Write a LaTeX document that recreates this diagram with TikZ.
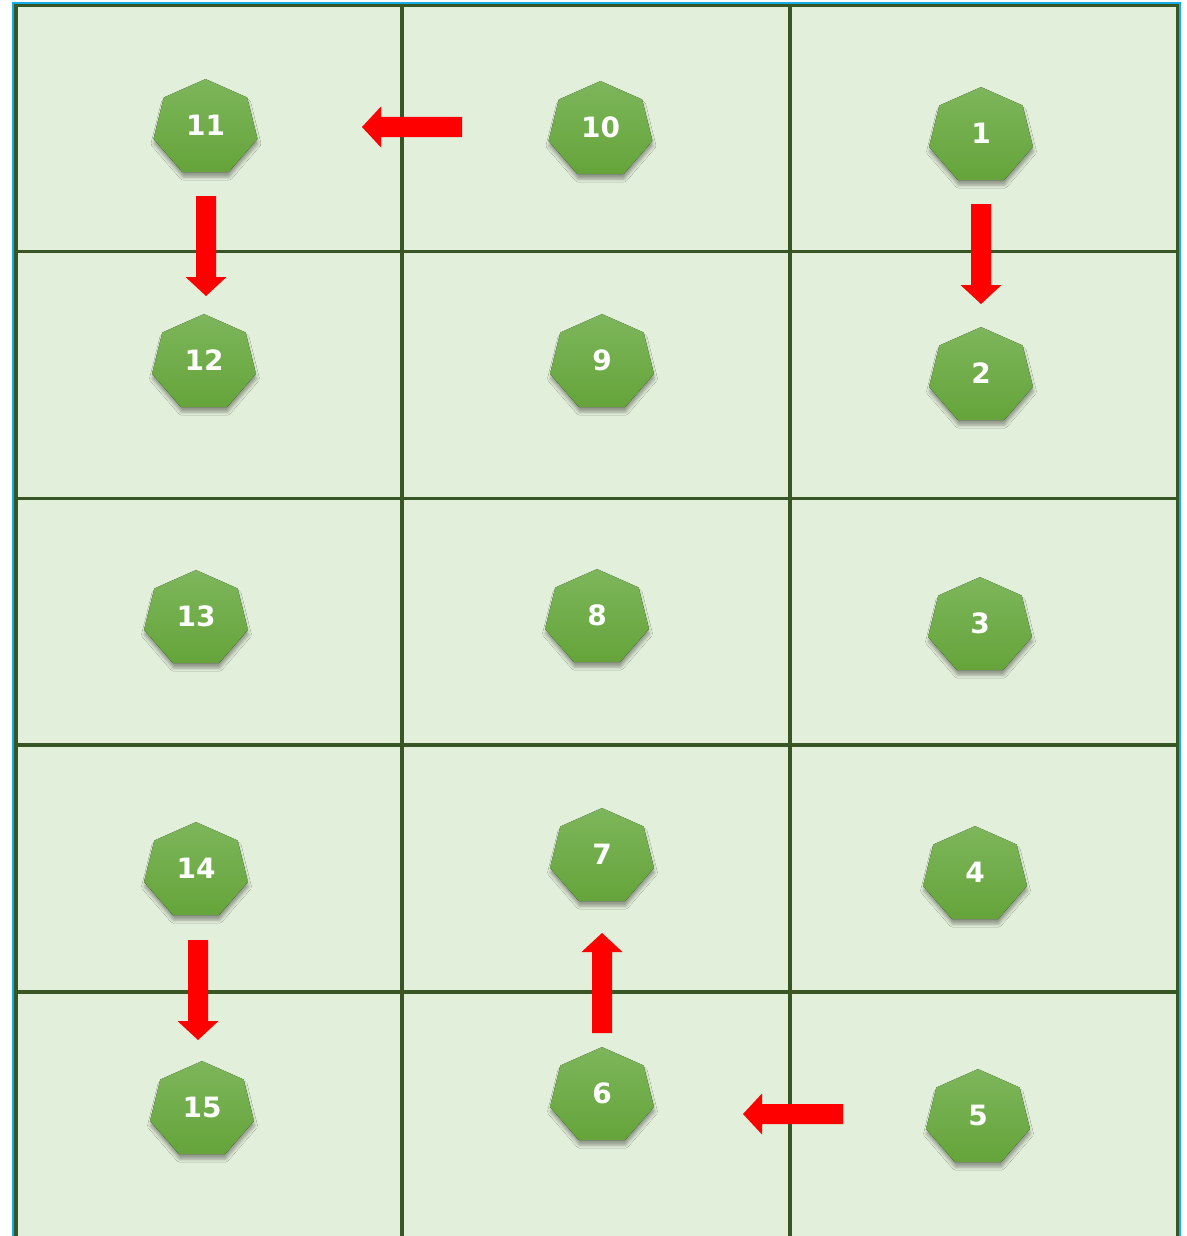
\documentclass[tikz,border=0pt]{standalone}
\usepackage{fontspec}
\setmainfont{DejaVu Sans}
\usetikzlibrary{shadows.blur,calc}
\definecolor{cellbg}{HTML}{E2EFDA}
\definecolor{gridgreen}{HTML}{375623}
\definecolor{framblue}{RGB}{22,172,232}
\definecolor{heptop}{HTML}{7DB65B}
\definecolor{heptbot}{HTML}{65A43A}
\definecolor{arrowred}{HTML}{FF0000}
\tikzset{
  gridline/.style={draw=gridgreen, line width=3.5pt},
  heptshape/.style={top color=heptop, bottom color=heptbot,
    blur shadow={shadow xshift=0.5pt, shadow yshift=-5pt, shadow blur radius=3pt, shadow opacity=35}},
  heptlabel/.style={text=white, font=\bfseries\fontsize{28}{28}\selectfont, inner sep=0pt},
  blockarrow/.pic={\fill[arrowred] (0,-10) -- (81,-10) -- (81,-20.5) -- (100,0) -- (81,20.5) -- (81,10) -- (0,10) -- cycle;}
}
\newcommand\hepta[4]{% name, cx, cy, label
  \fill[heptshape] ($(#2,#3)+(270:53.3 and 48.9)$)
    -- ($(#2,#3)+(321.43:53.3 and 48.9)$) -- ($(#2,#3)+(12.86:53.3 and 48.9)$)
    -- ($(#2,#3)+(64.29:53.3 and 48.9)$) -- ($(#2,#3)+(115.71:53.3 and 48.9)$)
    -- ($(#2,#3)+(167.14:53.3 and 48.9)$) -- ($(#2,#3)+(218.57:53.3 and 48.9)$) -- cycle;
  \node[heptlabel] (#1) at (#2,#3-3) {#4};
}
\begin{document}
\begin{tikzpicture}[x=1pt,y=-1pt]
\useasboundingbox (0,0) rectangle (1186,1236);
% background
\fill[cellbg] (16,5.5) rectangle (1177.5,1236);
% blue frame
\draw[framblue, line width=2pt] (13,1236) -- (13,3) -- (1180,3) -- (1180,1236);
% grid
\draw[gridline] (16,1236) -- (16,5.5) -- (1177.5,5.5) -- (1177.5,1236);
\foreach \gx in {402,790} \draw[gridline] (\gx,5.5) -- (\gx,1236);
\foreach \gy in {251.5,498.5,745,992} \draw[gridline] (16,\gy) -- (1177.5,\gy);
% heptagons
\hepta{n11}{205.5}{128}{11}
\hepta{n10}{600.5}{130}{10}
\hepta{n1}{981}{136}{1}
\hepta{n12}{204}{363}{12}
\hepta{n9}{602}{363}{9}
\hepta{n2}{981}{376}{2}
\hepta{n13}{196}{619}{13}
\hepta{n8}{597}{618}{8}
\hepta{n3}{980}{626}{3}
\hepta{n14}{196}{871}{14}
\hepta{n7}{602}{857}{7}
\hepta{n4}{975}{875}{4}
\hepta{n15}{202}{1110}{15}
\hepta{n6}{602}{1096}{6}
\hepta{n5}{978}{1118}{5}
% arrows
\coordinate (a1) at (462,127);
\coordinate (a2) at (206,196);
\coordinate (a3) at (981,204);
\coordinate (a4) at (198,940);
\coordinate (a5) at (602,1033);
\coordinate (a6) at (843,1114);
\pic[rotate=180] at (a1) {blockarrow};
\pic[rotate=-90] at (a2) {blockarrow};
\pic[rotate=-90] at (a3) {blockarrow};
\pic[rotate=-90] at (a4) {blockarrow};
\pic[rotate=90] at (a5) {blockarrow};
\pic[rotate=180] at (a6) {blockarrow};
\end{tikzpicture}
\end{document}
